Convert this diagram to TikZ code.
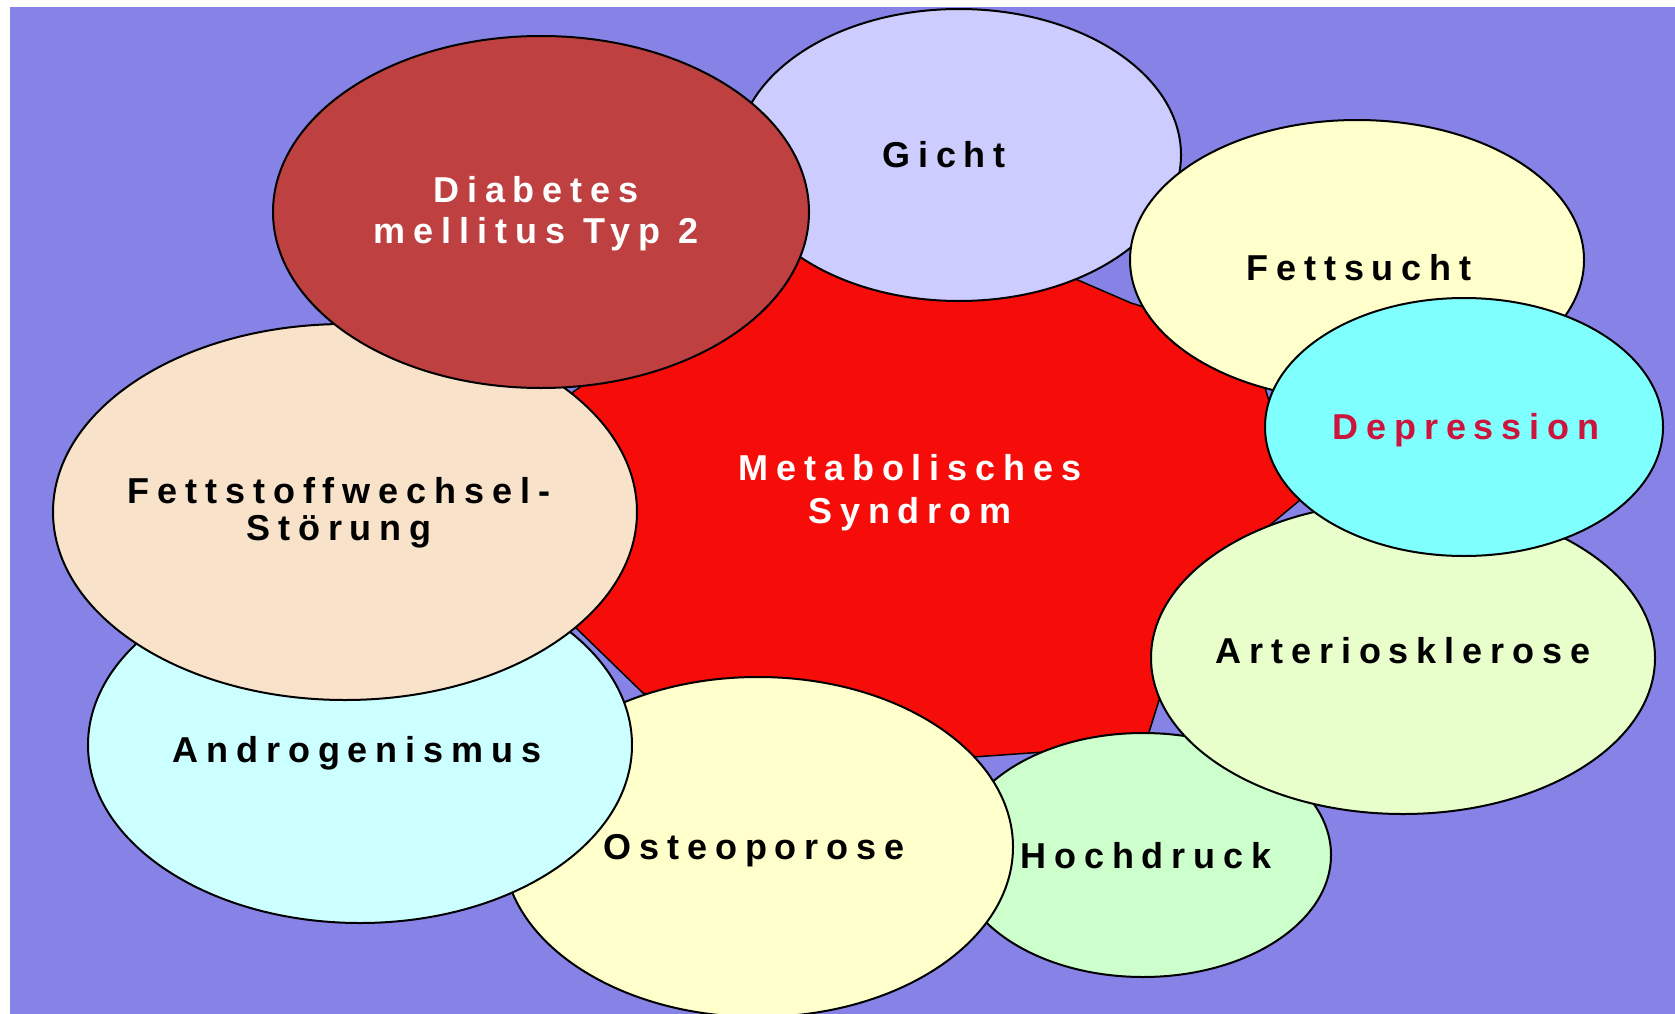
\documentclass[tikz,border=0pt]{standalone}
\usepackage{fontspec}
\newfontfamily\labelfont[LetterSpace=22]{Liberation Sans}
\usetikzlibrary{shapes.geometric}

\definecolor{bgviolet}{RGB}{134,130,230}
\definecolor{syndromred}{RGB}{246,12,8}
\definecolor{diabred}{RGB}{190,64,64}
\definecolor{gichtblue}{RGB}{204,204,255}
\definecolor{paleyellow}{RGB}{255,255,204}
\definecolor{depcyan}{RGB}{128,255,255}
\definecolor{artgreen}{RGB}{232,255,204}
\definecolor{hochgreen}{RGB}{204,255,204}
\definecolor{andcyan}{RGB}{204,255,255}
\definecolor{peach}{RGB}{249,226,202}
\definecolor{deptext}{RGB}{204,20,60}

\begin{document}
\begin{tikzpicture}[x=1pt,y=-1pt]

% Styles
\tikzstyle{blob} =
	[ellipse, draw=black, line width=2pt, inner sep=0pt, outer sep=0pt]

\tikzstyle{caption} =
	[font=\labelfont\bfseries\fontsize{36}{41}\selectfont, align=center,
	 inner sep=0pt, anchor=base]

% Frame
\useasboundingbox (0,0) rectangle (1675,1014);
\fill[white] (0,0) rectangle (1675,1014);
\fill[bgviolet] (10,7) rectangle (1675,1014);
\clip (10,7) rectangle (1675,1014);

% Centre
\draw[fill=syndromred, line width=1.5pt]
	(573,392) -- (790,240) -- (1020,255) -- (1131,303) -- (1250,340)
	-- (1300,500) -- (1180,600) -- (1160,697) -- (1145,745) -- (930,760)
	-- (643,693) -- (573,625) -- (560,510) -- cycle;

% Circles
\node (Gicht) at (959,155)
	[blob, fill=gichtblue, minimum width=444pt, minimum height=292pt] {};
\node (Fettsucht) at (1357,260)
	[blob, fill=paleyellow, minimum width=454pt, minimum height=280pt] {};
\node (Hochdruck) at (1143,855)
	[blob, fill=hochgreen, minimum width=376pt, minimum height=244pt] {};
\node (Arterio) at (1403,658)
	[blob, fill=artgreen, minimum width=504pt, minimum height=312pt] {};
\node (Depression) at (1464,427)
	[blob, fill=depcyan, minimum width=398pt, minimum height=258pt] {};
\node (Osteo) at (758,847)
	[blob, fill=paleyellow, minimum width=510pt, minimum height=340pt] {};
\node (Androgen) at (360,745)
	[blob, fill=andcyan, minimum width=544pt, minimum height=356pt] {};
\node (Fettstoff) at (345,512)
	[blob, fill=peach, minimum width=584pt, minimum height=376pt] {};
\node (Diabetes) at (541,212)
	[blob, fill=diabred, minimum width=536pt, minimum height=352pt] {};

% Labels
\node (SyndromText) at (910,523) [caption, white] {Metabolisches\\[2pt]Syndrom};
\node (DiabetesText) at (536,243) [caption, white] {Diabetes\\mellitus Typ 2};
\node (GichtText) at (944,167) [caption] {Gicht};
\node (FettsuchtText) at (1359,280) [caption] {Fettsucht};
\node (DepressionText) at (1466,439) [caption, deptext] {Depression};
\node (ArterioText) at (1403,663) [caption] {Arteriosklerose};
\node (HochdruckText) at (1146,868) [caption] {Hochdruck};
\node (OsteoText) at (754,859) [caption] {Osteoporose};
\node (AndrogenText) at (357,762) [caption] {Androgenismus};
\node (FettstoffText) at (339,540) [caption] {Fettstoffwechsel-\\[-4pt]Störung};

\end{tikzpicture}
\end{document}
